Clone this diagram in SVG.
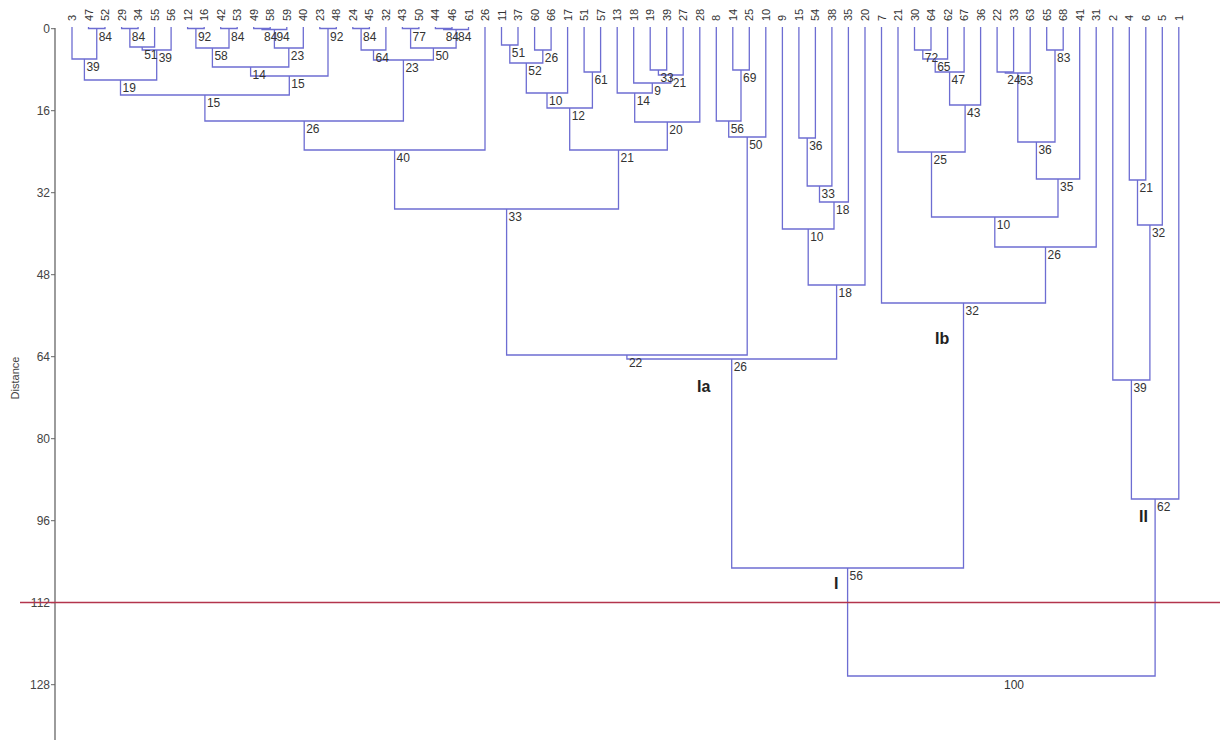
<svg xmlns="http://www.w3.org/2000/svg" width="1230" height="740" viewBox="0 0 1230 740">
<style>
.br{fill:none;stroke:#6d6dd2;stroke-width:1.3}
.lf{font-family:"Liberation Sans",Arial,sans-serif;font-size:11px;fill:#333}
.nl{font-family:"Liberation Sans",Arial,sans-serif;font-size:12px;fill:#333}
.ax{font-family:"Liberation Sans",Arial,sans-serif;font-size:12px;fill:#444;text-anchor:end}
.gl{font-family:"Liberation Sans",Arial,sans-serif;font-size:16px;font-weight:bold;fill:#222}
</style>
<rect width="1230" height="740" fill="#fff"/>
<g id="axis">
<path d="M55 28V740" stroke="#666" stroke-width="1.3" fill="none"/>
<path d="M51 28.7H55M51 110.7H55M51 192.7H55M51 274.7H55M51 356.7H55M51 438.7H55M51 520.7H55M51 602.7H55M51 684.7H55" stroke="#666" stroke-width="1"/>
<text class="ax" x="50" y="33">0</text>
<text class="ax" x="50" y="115">16</text>
<text class="ax" x="50" y="197">32</text>
<text class="ax" x="50" y="279">48</text>
<text class="ax" x="50" y="361">64</text>
<text class="ax" x="50" y="443">80</text>
<text class="ax" x="50" y="525">96</text>
<text class="ax" x="50" y="607">112</text>
<text class="ax" x="50" y="689">128</text>
<text transform="translate(19,378) rotate(-90)" font-family="Liberation Sans, Arial, sans-serif" font-size="11" fill="#444" text-anchor="middle">Distance</text>
</g>
<g id="connectors">
<path class="br" d="M88.5 27V28.5H105V27"/>
<path class="br" d="M72 27V59H96.75V28.5"/>
<path class="br" d="M121.6 27V28.5H138.1V27"/>
<path class="br" d="M129.85 28.5V47H154.6V27"/>
<path class="br" d="M142.2 47V50H171.1V27"/>
<path class="br" d="M84.4 59V80H156.7V50"/>
<path class="br" d="M187.6 27V28.5H204.2V27"/>
<path class="br" d="M220.7 27V28.5H237.2V27"/>
<path class="br" d="M195.9 28.5V48H229V28.5"/>
<path class="br" d="M253.7 27V28.5H270.2V27"/>
<path class="br" d="M262 28.5V29.5H286.8V27"/>
<path class="br" d="M274.4 29.5V48H303.3V27"/>
<path class="br" d="M212.4 48V67H288.8V48"/>
<path class="br" d="M319.8 27V28.5H336.3V27"/>
<path class="br" d="M250.6 67V76H328V28.5"/>
<path class="br" d="M120.5 80V95H289.3V76"/>
<path class="br" d="M352.8 27V28.5H369.4V27"/>
<path class="br" d="M361.1 28.5V50H385.9V27"/>
<path class="br" d="M402.4 27V28.5H418.9V27"/>
<path class="br" d="M435.4 27V28.5H452V27"/>
<path class="br" d="M443.7 28.5V29.5H468.5V27"/>
<path class="br" d="M410.6 28.5V48H456.1V29.5"/>
<path class="br" d="M373.5 50V60H433.4V48"/>
<path class="br" d="M204.9 95V121H403.4V60"/>
<path class="br" d="M304.2 121V150H485V27"/>
<path class="br" d="M501.5 27V45H518V27"/>
<path class="br" d="M534.6 27V50H551.1V27"/>
<path class="br" d="M509.8 45V63H542.8V50"/>
<path class="br" d="M526.3 63V93H567.6V27"/>
<path class="br" d="M584.1 27V72H600.6V27"/>
<path class="br" d="M547 93V108H592.4V72"/>
<path class="br" d="M650.2 27V70H666.7V27"/>
<path class="br" d="M658.4 70V75H683.2V27"/>
<path class="br" d="M633.7 27V83H670.8V75"/>
<path class="br" d="M617.2 27V93H652.3V83"/>
<path class="br" d="M634.7 93V122H699.8V27"/>
<path class="br" d="M569.7 108V150H667.3V122"/>
<path class="br" d="M394.6 150V209H618.5V150"/>
<path class="br" d="M732.8 27V70H749.3V27"/>
<path class="br" d="M716.3 27V121H741V70"/>
<path class="br" d="M728.7 121V137H765.8V27"/>
<path class="br" d="M506.6 209V355H747.2V137"/>
<path class="br" d="M798.9 27V138H815.4V27"/>
<path class="br" d="M807.2 138V186H831.9V27"/>
<path class="br" d="M819.5 186V202H848.4V27"/>
<path class="br" d="M782.4 27V229H834V202"/>
<path class="br" d="M808.2 229V285H865V27"/>
<path class="br" d="M626.9 355V359H836.6V285"/>
<path class="br" d="M914.5 27V50H931V27"/>
<path class="br" d="M922.8 50V59H947.6V27"/>
<path class="br" d="M935.2 59V72H964.1V27"/>
<path class="br" d="M949.6 72V105H980.6V27"/>
<path class="br" d="M898 27V152H965.1V105"/>
<path class="br" d="M997.1 27V72H1013.6V27"/>
<path class="br" d="M1005.3 72V73H1030.2V27"/>
<path class="br" d="M1046.7 27V50H1063.2V27"/>
<path class="br" d="M1017.8 73V142H1055V50"/>
<path class="br" d="M1036.4 142V179H1079.7V27"/>
<path class="br" d="M931.5 152V217H1058V179"/>
<path class="br" d="M994.8 217V247H1096.2V27"/>
<path class="br" d="M881.5 27V303H1045.5V247"/>
<path class="br" d="M731.7 359V568H963.5V303"/>
<path class="br" d="M1129.3 27V180H1145.8V27"/>
<path class="br" d="M1137.5 180V225H1162.3V27"/>
<path class="br" d="M1112.8 27V380H1149.9V225"/>
<path class="br" d="M1131.4 380V499H1178.8V27"/>
<path class="br" d="M847.6 568V676H1155.1V499"/>
</g>
<g id="leaves">
<g id="leaf-3"><text class="lf" transform="translate(76,21) rotate(-90)">3</text></g>
<g id="leaf-47"><text class="lf" transform="translate(92.5,21) rotate(-90)">47</text></g>
<g id="leaf-52"><text class="lf" transform="translate(109,21) rotate(-90)">52</text></g>
<g id="leaf-29"><text class="lf" transform="translate(125.6,21) rotate(-90)">29</text></g>
<g id="leaf-34"><text class="lf" transform="translate(142.1,21) rotate(-90)">34</text></g>
<g id="leaf-55"><text class="lf" transform="translate(158.6,21) rotate(-90)">55</text></g>
<g id="leaf-56"><text class="lf" transform="translate(175.1,21) rotate(-90)">56</text></g>
<g id="leaf-12"><text class="lf" transform="translate(191.6,21) rotate(-90)">12</text></g>
<g id="leaf-16"><text class="lf" transform="translate(208.2,21) rotate(-90)">16</text></g>
<g id="leaf-42"><text class="lf" transform="translate(224.7,21) rotate(-90)">42</text></g>
<g id="leaf-53"><text class="lf" transform="translate(241.2,21) rotate(-90)">53</text></g>
<g id="leaf-49"><text class="lf" transform="translate(257.7,21) rotate(-90)">49</text></g>
<g id="leaf-58"><text class="lf" transform="translate(274.2,21) rotate(-90)">58</text></g>
<g id="leaf-59"><text class="lf" transform="translate(290.8,21) rotate(-90)">59</text></g>
<g id="leaf-40"><text class="lf" transform="translate(307.3,21) rotate(-90)">40</text></g>
<g id="leaf-23"><text class="lf" transform="translate(323.8,21) rotate(-90)">23</text></g>
<g id="leaf-48"><text class="lf" transform="translate(340.3,21) rotate(-90)">48</text></g>
<g id="leaf-24"><text class="lf" transform="translate(356.8,21) rotate(-90)">24</text></g>
<g id="leaf-45"><text class="lf" transform="translate(373.4,21) rotate(-90)">45</text></g>
<g id="leaf-32"><text class="lf" transform="translate(389.9,21) rotate(-90)">32</text></g>
<g id="leaf-43"><text class="lf" transform="translate(406.4,21) rotate(-90)">43</text></g>
<g id="leaf-50"><text class="lf" transform="translate(422.9,21) rotate(-90)">50</text></g>
<g id="leaf-44"><text class="lf" transform="translate(439.4,21) rotate(-90)">44</text></g>
<g id="leaf-46"><text class="lf" transform="translate(456,21) rotate(-90)">46</text></g>
<g id="leaf-61"><text class="lf" transform="translate(472.5,21) rotate(-90)">61</text></g>
<g id="leaf-26"><text class="lf" transform="translate(489,21) rotate(-90)">26</text></g>
<g id="leaf-11"><text class="lf" transform="translate(505.5,21) rotate(-90)">11</text></g>
<g id="leaf-37"><text class="lf" transform="translate(522,21) rotate(-90)">37</text></g>
<g id="leaf-60"><text class="lf" transform="translate(538.6,21) rotate(-90)">60</text></g>
<g id="leaf-66"><text class="lf" transform="translate(555.1,21) rotate(-90)">66</text></g>
<g id="leaf-17"><text class="lf" transform="translate(571.6,21) rotate(-90)">17</text></g>
<g id="leaf-51"><text class="lf" transform="translate(588.1,21) rotate(-90)">51</text></g>
<g id="leaf-57"><text class="lf" transform="translate(604.6,21) rotate(-90)">57</text></g>
<g id="leaf-13"><text class="lf" transform="translate(621.2,21) rotate(-90)">13</text></g>
<g id="leaf-18"><text class="lf" transform="translate(637.7,21) rotate(-90)">18</text></g>
<g id="leaf-19"><text class="lf" transform="translate(654.2,21) rotate(-90)">19</text></g>
<g id="leaf-39"><text class="lf" transform="translate(670.7,21) rotate(-90)">39</text></g>
<g id="leaf-27"><text class="lf" transform="translate(687.2,21) rotate(-90)">27</text></g>
<g id="leaf-28"><text class="lf" transform="translate(703.8,21) rotate(-90)">28</text></g>
<g id="leaf-8"><text class="lf" transform="translate(720.3,21) rotate(-90)">8</text></g>
<g id="leaf-14"><text class="lf" transform="translate(736.8,21) rotate(-90)">14</text></g>
<g id="leaf-25"><text class="lf" transform="translate(753.3,21) rotate(-90)">25</text></g>
<g id="leaf-10"><text class="lf" transform="translate(769.8,21) rotate(-90)">10</text></g>
<g id="leaf-9"><text class="lf" transform="translate(786.4,21) rotate(-90)">9</text></g>
<g id="leaf-15"><text class="lf" transform="translate(802.9,21) rotate(-90)">15</text></g>
<g id="leaf-54"><text class="lf" transform="translate(819.4,21) rotate(-90)">54</text></g>
<g id="leaf-38"><text class="lf" transform="translate(835.9,21) rotate(-90)">38</text></g>
<g id="leaf-35"><text class="lf" transform="translate(852.4,21) rotate(-90)">35</text></g>
<g id="leaf-20"><text class="lf" transform="translate(869,21) rotate(-90)">20</text></g>
<g id="leaf-7"><text class="lf" transform="translate(885.5,21) rotate(-90)">7</text></g>
<g id="leaf-21"><text class="lf" transform="translate(902,21) rotate(-90)">21</text></g>
<g id="leaf-30"><text class="lf" transform="translate(918.5,21) rotate(-90)">30</text></g>
<g id="leaf-64"><text class="lf" transform="translate(935,21) rotate(-90)">64</text></g>
<g id="leaf-62"><text class="lf" transform="translate(951.6,21) rotate(-90)">62</text></g>
<g id="leaf-67"><text class="lf" transform="translate(968.1,21) rotate(-90)">67</text></g>
<g id="leaf-36"><text class="lf" transform="translate(984.6,21) rotate(-90)">36</text></g>
<g id="leaf-22"><text class="lf" transform="translate(1001.1,21) rotate(-90)">22</text></g>
<g id="leaf-33"><text class="lf" transform="translate(1017.6,21) rotate(-90)">33</text></g>
<g id="leaf-63"><text class="lf" transform="translate(1034.2,21) rotate(-90)">63</text></g>
<g id="leaf-65"><text class="lf" transform="translate(1050.7,21) rotate(-90)">65</text></g>
<g id="leaf-68"><text class="lf" transform="translate(1067.2,21) rotate(-90)">68</text></g>
<g id="leaf-41"><text class="lf" transform="translate(1083.7,21) rotate(-90)">41</text></g>
<g id="leaf-31"><text class="lf" transform="translate(1100.2,21) rotate(-90)">31</text></g>
<g id="leaf-2"><text class="lf" transform="translate(1116.8,21) rotate(-90)">2</text></g>
<g id="leaf-4"><text class="lf" transform="translate(1133.3,21) rotate(-90)">4</text></g>
<g id="leaf-6"><text class="lf" transform="translate(1149.8,21) rotate(-90)">6</text></g>
<g id="leaf-5"><text class="lf" transform="translate(1166.3,21) rotate(-90)">5</text></g>
<g id="leaf-1"><text class="lf" transform="translate(1182.8,21) rotate(-90)">1</text></g>
</g>
<g id="nodes">
<g id="n1"><text class="nl" x="98.7" y="40.5">84</text></g>
<g id="n2"><text class="nl" x="86.4" y="71">39</text></g>
<g id="n3"><text class="nl" x="131.8" y="40.5">84</text></g>
<g id="n4"><text class="nl" x="144.2" y="59">51</text></g>
<g id="n5"><text class="nl" x="158.7" y="62">39</text></g>
<g id="n6"><text class="nl" x="122.5" y="92">19</text></g>
<g id="n7"><text class="nl" x="197.9" y="40.5">92</text></g>
<g id="n8"><text class="nl" x="231" y="40.5">84</text></g>
<g id="n9"><text class="nl" x="214.4" y="60">58</text></g>
<g id="n10"><text class="nl" x="264" y="40.5">84</text></g>
<g id="n11"><text class="nl" x="276.4" y="41">94</text></g>
<g id="n12"><text class="nl" x="290.8" y="60">23</text></g>
<g id="n13"><text class="nl" x="252.6" y="79">14</text></g>
<g id="n14"><text class="nl" x="330" y="40.5">92</text></g>
<g id="n15"><text class="nl" x="291.3" y="88">15</text></g>
<g id="n16"><text class="nl" x="206.9" y="107">15</text></g>
<g id="n17"><text class="nl" x="363.1" y="40.5">84</text></g>
<g id="n18"><text class="nl" x="375.5" y="62">64</text></g>
<g id="n19"><text class="nl" x="412.6" y="40.5">77</text></g>
<g id="n20"><text class="nl" x="445.7" y="40.5">84</text></g>
<g id="n21"><text class="nl" x="458.1" y="41">84</text></g>
<g id="n22"><text class="nl" x="435.4" y="60">50</text></g>
<g id="n23"><text class="nl" x="405.4" y="72">23</text></g>
<g id="n24"><text class="nl" x="306.2" y="133">26</text></g>
<g id="n25"><text class="nl" x="396.6" y="162">40</text></g>
<g id="n26"><text class="nl" x="511.8" y="57">51</text></g>
<g id="n27"><text class="nl" x="544.8" y="62">26</text></g>
<g id="n28"><text class="nl" x="528.3" y="75">52</text></g>
<g id="n29"><text class="nl" x="549" y="105">10</text></g>
<g id="n30"><text class="nl" x="594.4" y="84">61</text></g>
<g id="n31"><text class="nl" x="571.7" y="120">12</text></g>
<g id="n32"><text class="nl" x="660.4" y="82">33</text></g>
<g id="n33"><text class="nl" x="672.8" y="87">21</text></g>
<g id="n34"><text class="nl" x="654.3" y="95">9</text></g>
<g id="n35"><text class="nl" x="636.7" y="105">14</text></g>
<g id="n36"><text class="nl" x="669.3" y="134">20</text></g>
<g id="n37"><text class="nl" x="620.5" y="162">21</text></g>
<g id="n38"><text class="nl" x="508.6" y="221">33</text></g>
<g id="n39"><text class="nl" x="743" y="82">69</text></g>
<g id="n40"><text class="nl" x="730.7" y="133">56</text></g>
<g id="n41"><text class="nl" x="749.2" y="149">50</text></g>
<g id="n42"><text class="nl" x="628.9" y="367">22</text></g>
<g id="n43"><text class="nl" x="809.2" y="150">36</text></g>
<g id="n44"><text class="nl" x="821.5" y="198">33</text></g>
<g id="n45"><text class="nl" x="836" y="214">18</text></g>
<g id="n46"><text class="nl" x="810.2" y="241">10</text></g>
<g id="n47"><text class="nl" x="838.6" y="297">18</text></g>
<g id="n48"><text class="nl" x="733.7" y="371">26</text></g>
<g id="n49"><text class="nl" x="924.8" y="62">72</text></g>
<g id="n50"><text class="nl" x="937.2" y="71">65</text></g>
<g id="n51"><text class="nl" x="951.6" y="84">47</text></g>
<g id="n52"><text class="nl" x="967.1" y="117">43</text></g>
<g id="n53"><text class="nl" x="933.5" y="164">25</text></g>
<g id="n54"><text class="nl" x="1007.3" y="84">24</text></g>
<g id="n55"><text class="nl" x="1019.8" y="85">53</text></g>
<g id="n56"><text class="nl" x="1057" y="62">83</text></g>
<g id="n57"><text class="nl" x="1038.4" y="154">36</text></g>
<g id="n58"><text class="nl" x="1060" y="191">35</text></g>
<g id="n59"><text class="nl" x="996.8" y="229">10</text></g>
<g id="n60"><text class="nl" x="1047.5" y="259">26</text></g>
<g id="n61"><text class="nl" x="965.5" y="315">32</text></g>
<g id="n62"><text class="nl" x="849.6" y="580">56</text></g>
<g id="n63"><text class="nl" x="1139.5" y="192">21</text></g>
<g id="n64"><text class="nl" x="1151.9" y="237">32</text></g>
<g id="n65"><text class="nl" x="1133.4" y="392">39</text></g>
<g id="n66"><text class="nl" x="1157.1" y="511">62</text></g>
<g id="n67"><text class="nl" x="1004" y="689">100</text></g>
</g>
<g id="groups">
<text class="gl" x="697" y="392">Ia</text>
<text class="gl" x="935" y="344">Ib</text>
<text class="gl" x="834" y="589">I</text>
<text class="gl" x="1139" y="522">II</text>
</g>
<path id="cut-line" d="M20 602.5H1220" stroke="#b3344c" stroke-width="1.3"/>
</svg>
